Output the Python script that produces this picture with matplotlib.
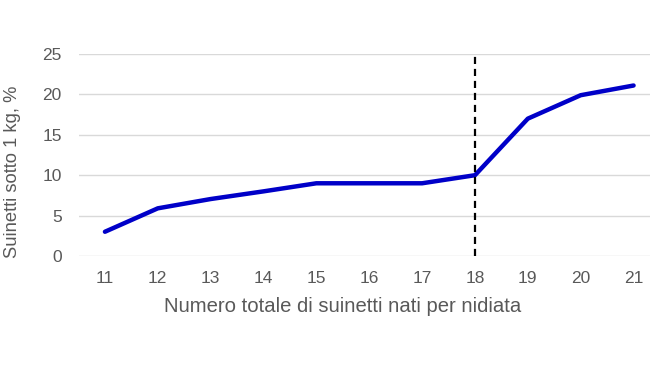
import matplotlib
matplotlib.use("Agg")
import matplotlib.pyplot as plt

# numero totale di suinetti nati per nidiata
litter_size = [11, 12, 13, 14, 15, 16, 17, 18, 19, 20, 21]
# % suinetti sotto 1 kg
pct_under_1kg = [3, 5.9, 7.05, 8, 9, 9, 9, 10, 17, 19.9, 21.1]
threshold = 18

plt.rcParams['font.family'] = ['Liberation Sans', 'DejaVu Sans']

fig = plt.figure(figsize=(6.5, 3.66), dpi=100)
ax = fig.add_axes([78.5 / 650, 110 / 366, (660 - 78.5) / 650, 202 / 366])

ax.plot(litter_size, pct_under_1kg, color='#0000c8', linewidth=3.2, solid_capstyle='round', zorder=3)
ax.plot([threshold, threshold], [0, 25], color='black', linestyle=(0, (3.2, 2.2)), linewidth=1.6, zorder=4)

ax.set_xlim(10.5, 21.5)
ax.set_ylim(0, 25)
ax.set_xticks(litter_size)
ax.set_yticks([0, 5, 10, 15, 20, 25])
ax.grid(axis='y', color='#d9d9d9', linewidth=1)
ax.set_axisbelow(True)
for s in ax.spines.values():
    s.set_visible(False)
ax.tick_params(length=0, labelsize=12.5, colors='#595959')
ax.tick_params(axis='x', pad=11)
ax.tick_params(axis='y', pad=12)

fig.text(343 / 650, 1 - 306 / 366, 'Numero totale di suinetti nati per nidiata',
         fontsize=14.6, color='#595959', ha='center', va='center')
fig.text(13 / 650, 1 - 172 / 366, 'Suinetti sotto 1 kg, %', rotation=90,
         fontsize=13.2, color='#595959', ha='center', va='center')

fig.savefig('out.png', dpi=100)
